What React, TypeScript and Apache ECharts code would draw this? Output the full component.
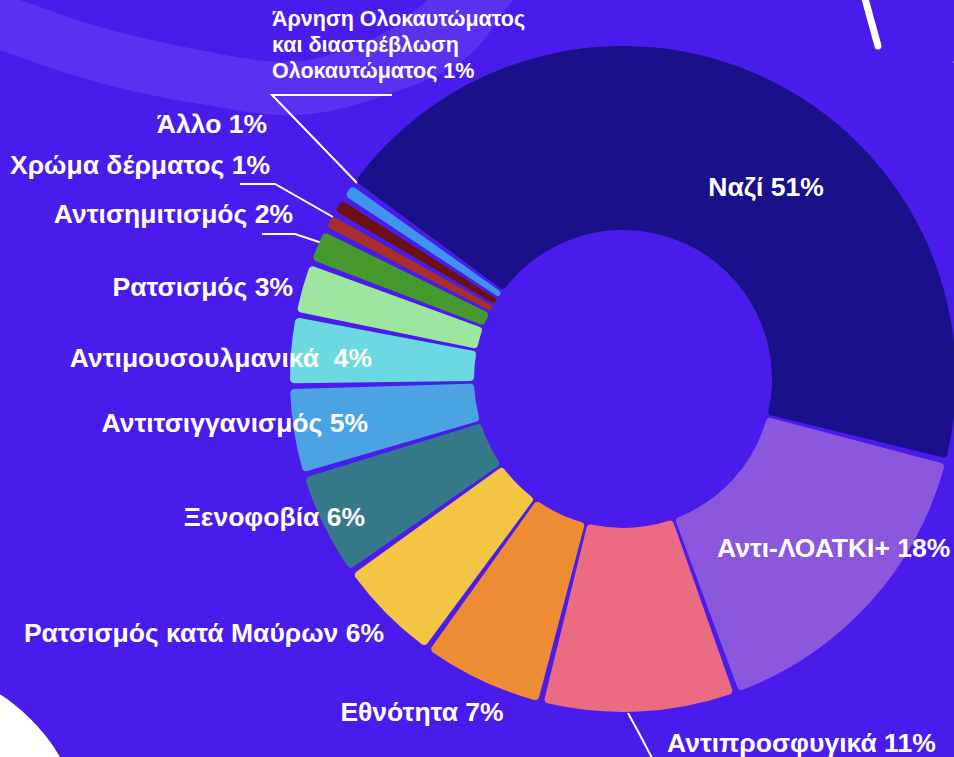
import React, { useEffect, useRef } from "react";
import * as echarts from "echarts";

const categories = [
  "Ναζί",
  "Αντι-ΛΟΑΤΚΙ+",
  "Αντιπροσφυγικά",
  "Εθνότητα",
  "Ρατσισμός κατά Μαύρων",
  "Ξενοφοβία",
  "Αντιτσιγγανισμός",
  "Αντιμουσουλμανικά ",
  "Ρατσισμός",
  "Αντισημιτισμός",
  "Χρώμα δέρματος",
  "Άλλο",
  "Άρνηση Ολοκαυτώματος\nκαι διαστρέβλωση\nΟλοκαυτώματος",
];
const values = [51, 18, 11, 7, 6, 6, 5, 4, 3, 2, 1, 1, 1];
const colors = [
  "#1a1089",
  "#8b57dc",
  "#eb6b83",
  "#ee8c33",
  "#f4c444",
  "#367a8a",
  "#4ca3e4",
  "#6bd8e2",
  "#9de6a0",
  "#45992d",
  "#a8302a",
  "#6b110f",
  "#3f94f0",
];

// label placement (layout only)
const labelPos: { x: number; y: number; align: string }[] = [
  { x: 766, y: 187, align: "center" },
  { x: 717, y: 548, align: "left" },
  { x: 667, y: 743, align: "left" },
  { x: 422, y: 712, align: "center" },
  { x: 384, y: 633, align: "right" },
  { x: 365, y: 517, align: "right" },
  { x: 368, y: 423, align: "right" },
  { x: 372, y: 358, align: "right" },
  { x: 293, y: 287, align: "right" },
  { x: 293, y: 214, align: "right" },
  { x: 270, y: 165, align: "right" },
  { x: 267, y: 124, align: "right" },
  { x: 272, y: 45, align: "left" },
];
const leaderLines: Record<number, number[][]> = {
  2: [[628, 713], [640, 735], [653, 760]],
  9: [[322, 243], [295, 234], [262, 234]],
  10: [[333, 217], [275, 184], [240, 184]],
  12: [[357, 183], [272, 95], [392, 95]],
};

// decorative light band outline (background decoration)
const bandShape = [
  [-60, -25], [20, 0], [100, 27], [200, 50], [285, 62], [345, 50], [392, 28], [427, 0], [450, -25],
  [545, -35], [513, 0], [467, 57], [392, 93], [300, 115], [200, 104], [100, 83], [0, 50], [-60, 25],
];

const BG = "#491cec";

export default function App() {
  const ref = useRef<HTMLDivElement>(null);
  useEffect(() => {
    const chart = echarts.init(ref.current!, null, { renderer: "svg" });
    const data = categories.map((name, i) => ({
      name,
      value: values[i],
      itemStyle: { color: colors[i] },
      label: i === 12 ? { fontSize: 21.5, lineHeight: 26 } : undefined,
      labelLine: { show: leaderLines[i] !== undefined },
    }));
    chart.setOption({
      animation: false,
      backgroundColor: BG,
      graphic: [
        {
          type: "polygon",
          z: 0,
          silent: true,
          shape: { points: bandShape, smooth: 0.35 },
          style: { fill: "#5a31f0" },
        },
        {
          type: "line",
          z: 0,
          silent: true,
          shape: { x1: 864, y1: -5, x2: 878, y2: 46 },
          style: { stroke: "#ffffff", lineWidth: 7, lineCap: "round" },
        },
        {
          type: "circle",
          z: 0,
          silent: true,
          shape: { cx: 956, cy: 62, r: 2.5 },
          style: { fill: "#ffffff" },
        },
        {
          type: "circle",
          z: 0,
          silent: true,
          shape: { cx: -100, cy: 850, r: 185 },
          style: { fill: "#ffffff" },
        },
      ],
      series: [
        {
          type: "pie",
          center: [623, 379],
          radius: [149, 333],
          startAngle: 144,
          clockwise: true,
          padAngle: 1,
          avoidLabelOverlap: false,
          itemStyle: { borderRadius: 4 },
          label: {
            show: true,
            position: "outside",
            color: "#ffffff",
            fontFamily: "'Liberation Sans', Arial, sans-serif",
            fontWeight: "bold",
            fontSize: 26.5,
            formatter: (p: any) => `${p.name} ${p.value}%`,
          },
          labelLine: {
            show: false,
            lineStyle: { color: "#ffffff", width: 2 },
          },
          labelLayout: (params: any) => {
            const i = params.dataIndex;
            const pos = labelPos[i];
            const out: any = {
              x: pos.x,
              y: pos.y,
              align: pos.align,
              verticalAlign: "middle",
            };
            if (leaderLines[i]) out.labelLinePoints = leaderLines[i];
            return out;
          },
          data,
        },
      ],
    });
    return () => chart.dispose();
  }, []);
  return (
    <div
      ref={ref}
      style={{ position: "fixed", left: 0, top: 0, width: 954, height: 757 }}
    />
  );
}
